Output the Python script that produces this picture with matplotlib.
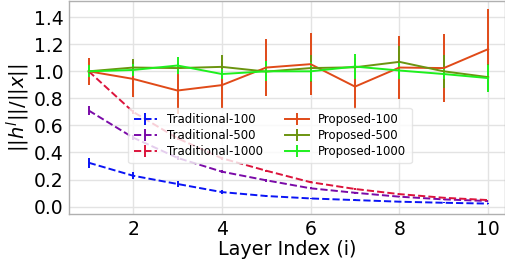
import matplotlib
matplotlib.use("Agg")
import matplotlib.pyplot as plt
import numpy as np

layers = [1, 2, 3, 4, 5, 6, 7, 8, 9, 10]

trad_100 = [0.324, 0.228, 0.167, 0.107, 0.078, 0.060, 0.048, 0.036, 0.028, 0.022]
trad_100_err = [0.037, 0.027, 0.02, 0.012, 0.008, 0.006, 0.005, 0.004, 0.003, 0.003]
trad_500 = [0.71, 0.51, 0.36, 0.258, 0.194, 0.135, 0.102, 0.073, 0.053, 0.041]
trad_500_err = [0.03, 0.02, 0.015, 0.012, 0.01, 0.008, 0.006, 0.005, 0.004, 0.003]
trad_1000 = [1.0, 0.70, 0.505, 0.357, 0.265, 0.18, 0.13, 0.092, 0.065, 0.048]
trad_1000_err = [0.02, 0.015, 0.012, 0.01, 0.008, 0.006, 0.005, 0.004, 0.003, 0.003]

prop_100 = [1.0, 0.944, 0.858, 0.898, 1.028, 1.053, 0.887, 1.028, 1.024, 1.164]
prop_100_err = [0.10, 0.135, 0.17, 0.17, 0.21, 0.23, 0.165, 0.23, 0.25, 0.30]
prop_500 = [1.0, 1.028, 1.024, 1.033, 0.998, 1.024, 1.03, 1.07, 1.0, 0.957]
prop_500_err = [0.03, 0.065, 0.04, 0.085, 0.06, 0.10, 0.07, 0.12, 0.12, 0.10]
prop_1000 = [1.0, 1.01, 1.043, 0.98, 1.0, 1.0, 1.035, 1.006, 0.98, 0.95]
prop_1000_err = [0.045, 0.045, 0.065, 0.035, 0.075, 0.07, 0.095, 0.06, 0.04, 0.10]

labels = ["Traditional-100", "Traditional-500", "Traditional-1000",
          "Proposed-100", "Proposed-500", "Proposed-1000"]
colors = ["#0a14f5", "#7a0aa8", "#dc143c", "#e04a18", "#6b9410", "#1ef01e"]

fig = plt.figure(figsize=(5.05, 2.65), dpi=100)
ax = fig.add_axes([69/505, 1 - 214/265, 1 - 69/505, 213/265])

series = [(trad_100, trad_100_err, "--"), (trad_500, trad_500_err, "--"),
          (trad_1000, trad_1000_err, "--"), (prop_100, prop_100_err, "-"),
          (prop_500, prop_500_err, "-"), (prop_1000, prop_1000_err, "-")]
for (vals, errs, ls), lab, col in zip(series, labels, colors):
    ax.errorbar(layers, vals, yerr=errs, linestyle=ls, color=col, label=lab,
                linewidth=1.4, elinewidth=1.4, capsize=0)

ax.set_xlim(0.555, 10.38)
ax.set_ylim(-0.055, 1.52)
ax.set_xticks([2, 4, 6, 8, 10])
ax.set_yticks([0.0, 0.2, 0.4, 0.6, 0.8, 1.0, 1.2, 1.4])
ax.tick_params(labelsize=13.5, length=0, pad=4)
ax.grid(True, color="#e3e3e3", linewidth=1.0)
ax.set_axisbelow(True)
for s in ax.spines.values():
    s.set_color("#b0b0b0")
    s.set_linewidth(1.0)
ax.set_xlabel("Layer Index (i)", fontsize=13.8, labelpad=1)
ax.set_ylabel(r"$||h^l||/||x||$", fontsize=14, labelpad=1)

leg = ax.legend(ncol=2, fontsize=8.5, loc="center", bbox_to_anchor=(0.461, 0.369),
                framealpha=0.8, edgecolor="#e0e0e0", handlelength=2.0,
                columnspacing=1.9, borderpad=0.45, labelspacing=0.25,
                handletextpad=0.8)

fig.savefig("out.png", dpi=100)
